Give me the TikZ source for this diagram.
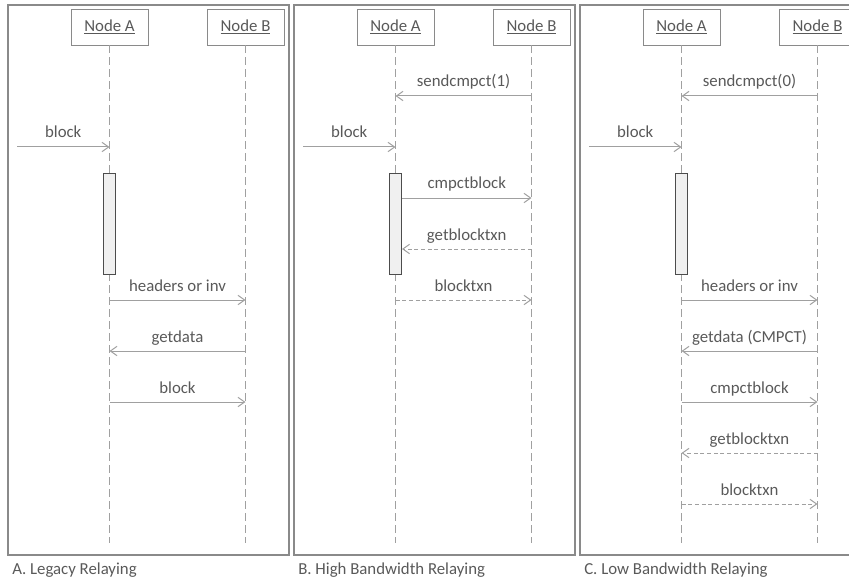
\documentclass[tikz,border=0pt]{standalone}
\usepackage{fontspec}
\setmainfont{Carlito}
\usepackage{xcolor}
\usepackage{tikz}
\usetikzlibrary{arrows.meta, positioning}

\definecolor{txtgray}{HTML}{595959}
\definecolor{linegray}{HTML}{A0A0A0}
\definecolor{framegray}{HTML}{8A8A8A}

\tikzset{
  panel/.style={draw=framegray, line width=0.8pt},
  actor/.style={draw=framegray, fill=white, line width=0.7pt, minimum width=57.75pt,
    minimum height=27pt, inner sep=0pt, text=txtgray},
  lifeline/.style={draw=linegray, line width=0.7pt, dash pattern=on 6pt off 3pt},
  activation/.style={draw=black!70, fill=black!6, line width=0.7pt, minimum width=9pt,
    minimum height=75.75pt, inner sep=0pt},
  msg/.style={draw=linegray, line width=0.75pt, -{Straight Barb[length=5pt,width=7pt]}},
  reply/.style={msg, dash pattern=on 3pt off 2pt},
  msglabel/.style={anchor=base, inner sep=0pt, yshift=6.75pt, text=txtgray},
  caption/.style={anchor=base west, inner sep=0pt, text=txtgray},
}

\begin{document}
\begin{tikzpicture}[x=0.75pt, y=-0.75pt, font=\fontsize{12.6pt}{15pt}\selectfont]
        \useasboundingbox (0,0) rectangle (849,581);
        \clip (0,0) rectangle (849,581);

        % message rows shared by all three panels
        \coordinate (r1) at (0,96);
        \coordinate (r2) at (0,147);
        \coordinate (r3) at (0,198);
        \coordinate (r4) at (0,249);
        \coordinate (r5) at (0,300);
        \coordinate (r6) at (0,351);
        \coordinate (r7) at (0,402);
        \coordinate (r8) at (0,453);
        \coordinate (r9) at (0,504);

        % A. legacy relaying
        \draw[panel] (8,5) rectangle (289,555);
        \node[actor] (aA) at (109.5,27) {\underline{Node A}};
        \node[actor] (aB) at (245.5,27) {\underline{Node B}};
        \coordinate (aAend) at (109.5,543);
        \coordinate (aBend) at (245.5,543);
        \draw[lifeline] (aA) -- (aAend);
        \draw[lifeline] (aB) -- (aBend);
        \node[activation] (aAct) at (109.5,223.5) {};

        \coordinate (aIn) at (17,147);
        \draw[msg] (aIn) -- (aA |- r2) node[msglabel, midway] {block};
        \draw[msg] (aA |- r5) -- (aB |- r5) node[msglabel, midway] {headers or inv};
        \draw[msg] (aB |- r6) -- (aA |- r6) node[msglabel, midway] {getdata};
        \draw[msg] (aA |- r7) -- (aB |- r7) node[msglabel, midway] {block};
        \node[caption] (aCap) at (12,574) {A. Legacy Relaying};

        % B. high bandwidth relaying
        \begin{scope}[xshift=214.5pt]
        \draw[panel] (8,5) rectangle (289,555);
        \node[actor] (bA) at (109.5,27) {\underline{Node A}};
        \node[actor] (bB) at (245.5,27) {\underline{Node B}};
        \coordinate (bAend) at (109.5,543);
        \coordinate (bBend) at (245.5,543);
        \draw[lifeline] (bA) -- (bAend);
        \draw[lifeline] (bB) -- (bBend);
        \node[activation] (bAct) at (109.5,223.5) {};

        \coordinate (bIn) at (17,147);
        \draw[msg] (bB |- r1) -- (bA |- r1) node[msglabel, midway] {sendcmpct(1)};
        \draw[msg] (bIn) -- (bA |- r2) node[msglabel, midway] {block};
        \draw[msg] (bAct.east |- r3) -- (bB |- r3) node[msglabel, midway] {cmpctblock};
        \draw[reply] (bB |- r4) -- (bAct.east |- r4) node[msglabel, midway] {getblocktxn};
        \draw[reply] (bA |- r5) -- (bB |- r5) node[msglabel, midway] {blocktxn};
        \node[caption] (bCap) at (12,574) {B. High Bandwidth Relaying};
        \end{scope}

        % C. low bandwidth relaying
        \begin{scope}[xshift=429pt]
        \draw[panel] (8,5) rectangle (289,555);
        \node[actor] (cA) at (109.5,27) {\underline{Node A}};
        \node[actor] (cB) at (245.5,27) {\underline{Node B}};
        \coordinate (cAend) at (109.5,543);
        \coordinate (cBend) at (245.5,543);
        \draw[lifeline] (cA) -- (cAend);
        \draw[lifeline] (cB) -- (cBend);
        \node[activation] (cAct) at (109.5,223.5) {};

        \coordinate (cIn) at (17,147);
        \draw[msg] (cB |- r1) -- (cA |- r1) node[msglabel, midway] {sendcmpct(0)};
        \draw[msg] (cIn) -- (cA |- r2) node[msglabel, midway] {block};
        \draw[msg] (cA |- r5) -- (cB |- r5) node[msglabel, midway] {headers or inv};
        \draw[msg] (cB |- r6) -- (cA |- r6) node[msglabel, midway] {getdata (CMPCT)};
        \draw[msg] (cA |- r7) -- (cB |- r7) node[msglabel, midway] {cmpctblock};
        \draw[reply] (cB |- r8) -- (cA |- r8) node[msglabel, midway] {getblocktxn};
        \draw[reply] (cA |- r9) -- (cB |- r9) node[msglabel, midway] {blocktxn};
        \node[caption] (cCap) at (12,574) {C. Low Bandwidth Relaying};
        \end{scope}
    \end{tikzpicture}
\end{document}
